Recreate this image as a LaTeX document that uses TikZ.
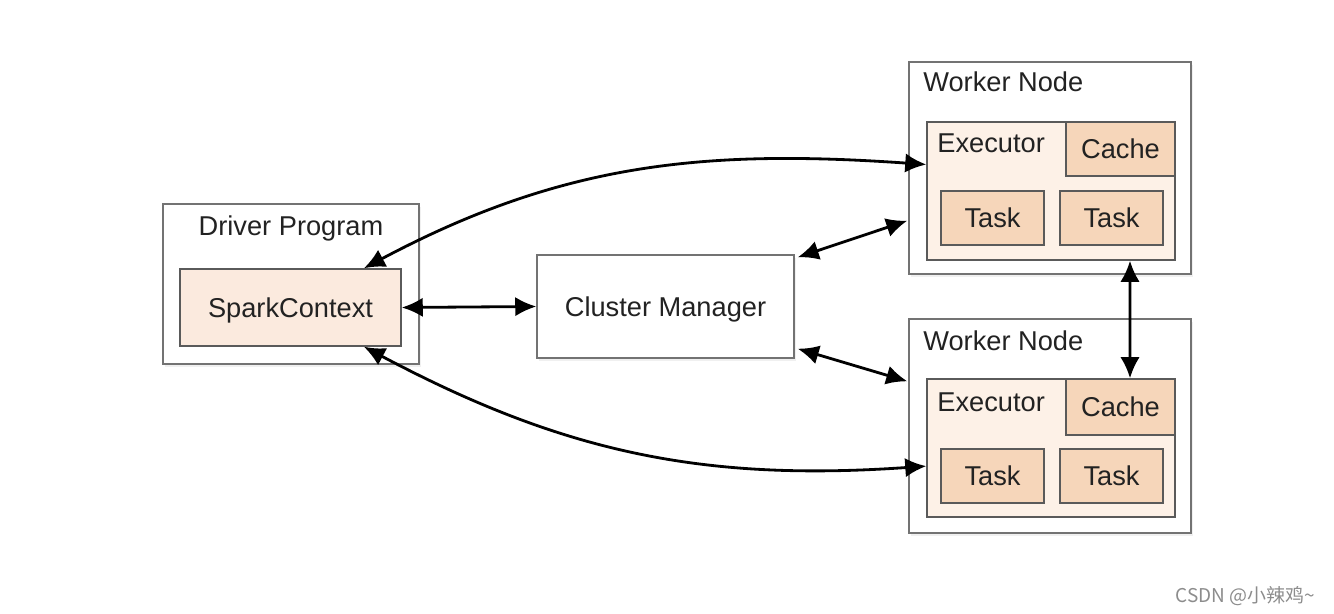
\documentclass[tikz,border=0pt]{standalone}
\usepackage{fontspec}
\setmainfont{Liberation Sans}
\newfontfamily\cjk{Noto Sans CJK SC}
\usetikzlibrary{calc,shadows,arrows.meta}
\definecolor{sparkfill}{HTML}{FBEADE}
\definecolor{execfill}{HTML}{FDF1E7}
\definecolor{taskfill}{HTML}{F6D6BA}
\definecolor{edgegray}{HTML}{5A5A5A}
\definecolor{inkgray}{HTML}{222222}
\tikzset{
	outerbox/.style={draw=edgegray!85, line width=0.8pt, fill=white, inner sep=0pt,
		drop shadow={opacity=0.12, shadow xshift=1.2pt, shadow yshift=-1.5pt}},
	sparkbox/.style={draw=edgegray, line width=0.8pt, fill=sparkfill, inner sep=0pt},
	execbox/.style={draw=edgegray, line width=0.8pt, fill=execfill, inner sep=0pt},
	taskbox/.style={draw=edgegray, line width=0.8pt, fill=taskfill, inner sep=0pt,
		minimum width=2.06cm, minimum height=1.08cm},
	lbl/.style={text=inkgray, font=\fontsize{15.5}{18}\selectfont, inner sep=0pt, text depth=0pt},
	link/.style={line width=1.6pt, black, {Latex[length=12pt,width=11pt]}-{Latex[length=12pt,width=11pt]}}
}

\begin{document}
\begin{tikzpicture}[x=0.02cm, y=0.02cm]
		%%%%% START %%%%%
		\useasboundingbox (0, 0) rectangle (1334, -614);
		
		% driver side
		\node[outerbox, minimum width=5.12cm, minimum height=3.2cm] (driver) at (291, -284) {};
		\node[lbl] (drivertxt) at (291, -226) {Driver Program};
		\node[sparkbox, lbl, minimum width=4.42cm, minimum height=1.54cm] (spark) at (290.5, -307.5) {SparkContext};
		
		\node[outerbox, lbl, minimum width=5.14cm, minimum height=2.06cm] (cm) at (665.5, -306.5) {Cluster Manager};
		
		% first worker
		\node[outerbox, minimum width=5.64cm, minimum height=4.24cm] (w1) at (1050, -168) {};
		\node[lbl, anchor=west] (w1txt) at (923, -82) {Worker Node};
		\node[execbox, minimum width=4.96cm, minimum height=2.76cm] (ex1) at (1051, -191) {};
		\node[lbl, anchor=west] (ex1txt) at (937, -143) {Executor};
		\node[taskbox, lbl, minimum width=2.18cm] (cache1) at (1120.5, -149) {Cache};
		\node[taskbox, lbl] (t1a) at (992.5, -218) {Task};
		\node[taskbox, lbl] (t1b) at (1111.5, -218) {Task};
		
		% second worker
		\node[outerbox, minimum width=5.64cm, minimum height=4.28cm] (w2) at (1050, -426) {};
		\node[lbl, anchor=west] (w2txt) at (923, -341) {Worker Node};
		\node[execbox, minimum width=4.96cm, minimum height=2.76cm] (ex2) at (1051, -448) {};
		\node[lbl, anchor=west] (ex2txt) at (937, -402) {Executor};
		\node[taskbox, lbl, minimum width=2.18cm, minimum height=1.12cm] (cache2) at (1120.5, -407) {Cache};
		\node[taskbox, lbl] (t2a) at (992.5, -476) {Task};
		\node[taskbox, lbl] (t2b) at (1111.5, -476) {Task};
		
		% connectors
		\draw[link] (spark.east) -- (cm.west);
		\draw[link] ($(cm.north east)+(3, -3)$) -- ($(w1.south west)+(-1, 54)$);
		\draw[link] ($(cm.south east)+(3, 10)$) -- ($(w2.north west)+(-1, -63)$);
		\draw[link] ($(spark.north)!0.66!(spark.north east)$) to[out=28, in=176] ($(ex1.north west)!0.31!(ex1.south west)$);
		\draw[link] ($(spark.south)!0.66!(spark.south east)$) to[out=-28, in=184] ($(ex2.north west)!0.63!(ex2.south west)$);
		\draw[link] ($(ex1.south)+(79, 0)$) -- ($(cache2.north)+(9.5, 0)$);
		
		\node[anchor=east, text=black!45, font=\cjk\fontsize{10.8}{12}\selectfont] (mark) at (1321, -596) {CSDN @小辣鸡\textasciitilde};
		
		%%%%% END %%%%%
	\end{tikzpicture}
\end{document}
